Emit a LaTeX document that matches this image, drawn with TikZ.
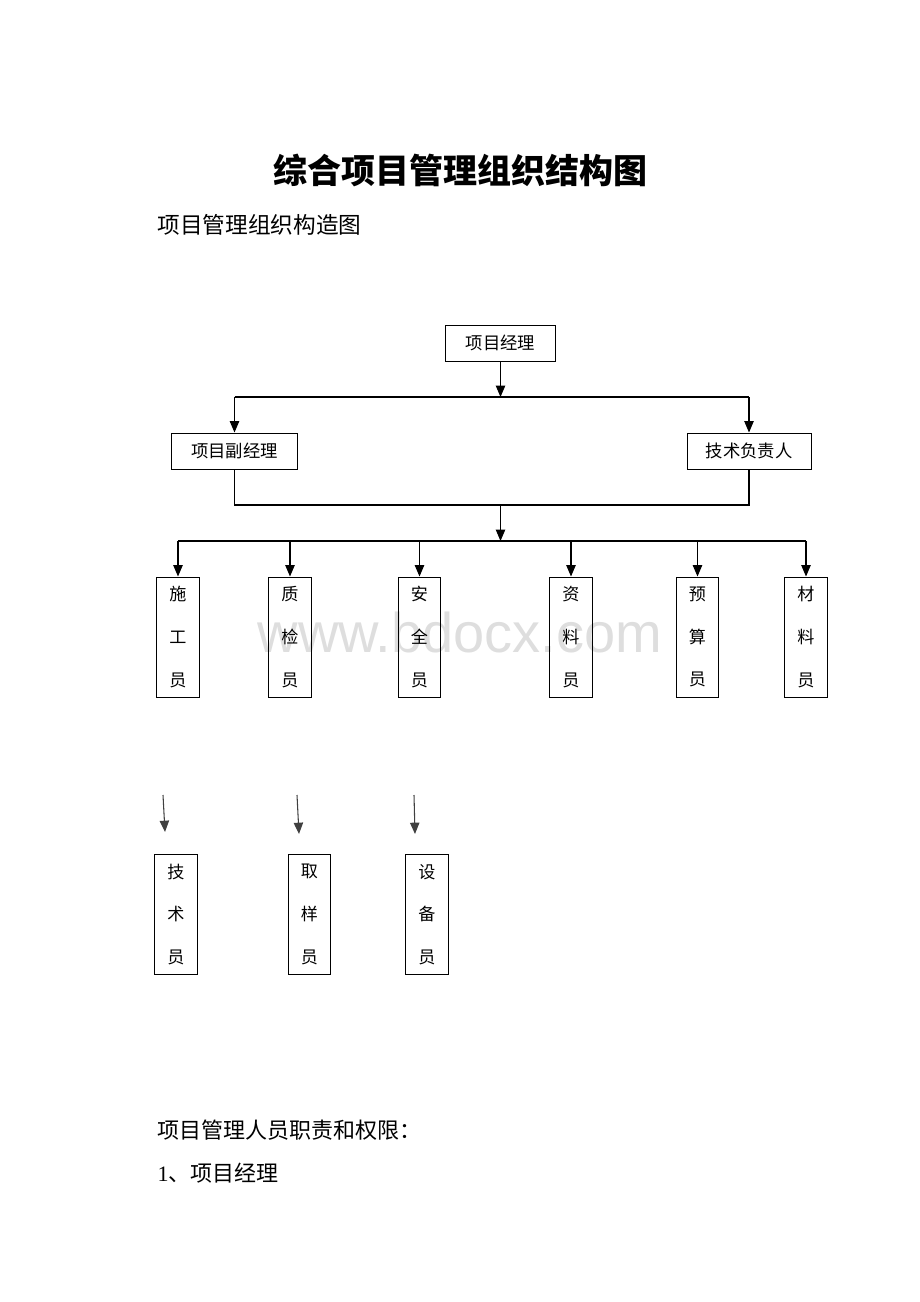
\documentclass[tikz,border=0pt]{standalone}
\usepackage{fontspec}
\usepackage{tikz}
\usetikzlibrary{arrows.meta}
\setmainfont{Liberation Serif}
\newfontfamily\cjk{Noto Sans CJK SC}
\newfontfamily\wmfont{Liberation Sans}

\begin{document}
\begin{tikzpicture}[x=0.75pt, y=-0.75pt, line width=0.8pt,
    box/.style={draw=black, line width=0.7pt, inner sep=0pt},
    hbox/.style={box, minimum height=27pt, font=\cjk\fontsize{13}{15}\selectfont},
    vbox/.style={box, minimum width=32pt, minimum height=90pt, align=center,
      font=\cjk\fontsize{12.8}{32}\selectfont},
    arr/.style={-{Triangle[length=8.5pt, width=7pt]}}]
    \useasboundingbox (0, 0) rectangle (920, 1302);

    % draw watermark
    \node[text=black!13, font=\wmfont\fontsize{42}{44}\selectfont] (mark) at (460, 632) {www.bdocx.com};

    % draw headings
    \node[font=\cjk\bfseries\fontsize{25.5}{28}\selectfont] (title) at (460, 170) {综合项目管理组织结构图};
    \node[anchor=west, inner sep=0pt, font=\cjk\fontsize{17}{19}\selectfont] (sub) at (157, 225) {项目管理组织构造图};

    % draw upper boxes
    \node[hbox, minimum width=83pt] (pm) at (500.5, 343) {项目经理};
    \node[hbox, minimum width=94pt] (vpm) at (234.5, 451) {项目副经理};
    \node[hbox, minimum width=93pt] (tl) at (749, 451) {技术负责人};

    % draw staff boxes
    \node[vbox] (s1) at (178, 637) {施\\工\\员};
    \node[vbox] (s2) at (290, 637) {质\\检\\员};
    \node[vbox] (s3) at (419.5, 637) {安\\全\\员};
    \node[vbox] (s4) at (571, 637) {资\\料\\员};
    \node[vbox] (s5) at (697.5, 637) {预\\算\\员};
    \node[vbox] (s6) at (806, 637) {材\\料\\员};

    % draw lower boxes
    \node[vbox] (t1) at (176, 914.5) {技\\术\\员};
    \node[vbox] (t2) at (309.5, 914.5) {取\\样\\员};
    \node[vbox] (t3) at (427, 914.5) {设\\备\\员};

    % draw first split
    \coordinate (split1) at (pm.south |- 0, 397);
    \draw[arr] (pm.south) -- (split1);
    \draw (vpm.north |- split1) -- (tl.north |- split1);
    \draw[arr] (vpm.north |- split1) -- (vpm.north);
    \draw[arr] (tl.north |- split1) -- (tl.north);

    % draw join and second split
    \coordinate (join) at (pm.south |- 0, 505);
    \coordinate (split2) at (pm.south |- 0, 541);
    \draw (vpm.south) -- (vpm.south |- join) -- (tl.south |- join) -- (tl.south);
    \draw[arr] (join) -- (split2);
    \draw (s1.north |- split2) -- (s6.north |- split2);
    \foreach \n in {s1, s2, s3, s4, s5, s6}
      \draw[arr] (\n.north |- split2) -- (\n.north);

    % draw loose arrows above lower boxes
    \coordinate (a1) at (163, 795);
    \coordinate (b1) at (165, 832);
    \coordinate (a2) at (297, 795);
    \coordinate (b2) at (299, 834);
    \coordinate (a3) at (414, 795);
    \coordinate (b3) at (415, 834);
    \draw[arr, color=black!75] (a1) -- (b1);
    \draw[arr, color=black!75] (a2) -- (b2);
    \draw[arr, color=black!75] (a3) -- (b3);

    % draw text below
    \node[anchor=west, inner sep=0pt, font=\cjk\fontsize{16.5}{19}\selectfont] (duty) at (157, 1130) {项目管理人员职责和权限：};
    \node[anchor=west, inner sep=0pt, font=\cjk\fontsize{16.5}{19}\selectfont] (item) at (157, 1173) {{\rmfamily 1}、项目经理};
\end{tikzpicture}
\end{document}
